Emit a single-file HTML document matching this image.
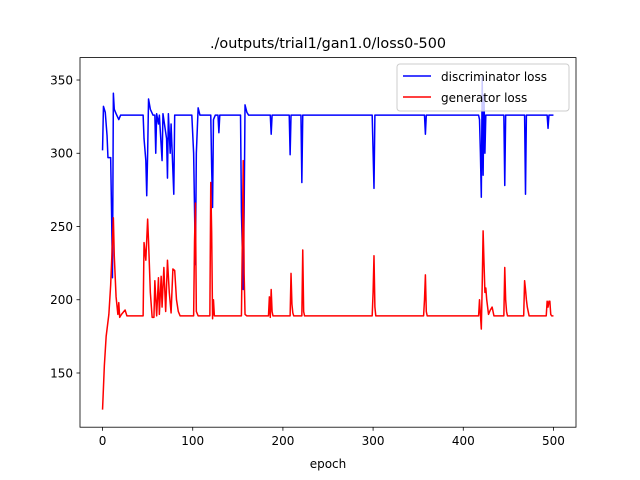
<!DOCTYPE html>
<html><head><meta charset="utf-8"><style>
body{margin:0;background:#fff;}
svg{display:block;font-family:"DejaVu Sans","Liberation Sans",sans-serif;}
</style></head><body>
<svg id="chart" width="640" height="480" xmlns="http://www.w3.org/2000/svg">
<rect width="640" height="480" fill="#fff"/>
<text x="328" y="48" text-anchor="middle" font-size="14.4">./outputs/trial1/gan1.0/loss0-500</text>
<g id="plot"></g>
<rect x="80" y="57.6" width="496" height="369.6" fill="none" stroke="#000" stroke-width="0.8"/>
<g id="xt"></g>
<g id="yt"></g>
<text x="328" y="468" text-anchor="middle" font-size="12">epoch</text>
<g>
<rect x="397" y="64" width="172" height="47" rx="3" fill="#fff" fill-opacity="0.8" stroke="#ccc" stroke-width="1"/>
<g>
<line x1="403" y1="76" x2="431" y2="76" stroke="#0000ff" stroke-width="1.5"/>
<text x="441" y="81" font-size="12">discriminator loss</text></g>
<g>
<line x1="403" y1="97" x2="431" y2="97" stroke="#ff0000" stroke-width="1.5"/>
<text x="441" y="102" font-size="12">generator loss</text></g>
</g>
</svg>
<script>
const xTicks=[0,100,200,300,400,500];
const yTicks=[150,200,250,300,350];
const dEpochs=[0,1,3,5,6,9,10,11,12,13,15,18,20,45,46,48,49,50,51,53,56,58,59,60,62,63,66,67,71,72,73,75,76,79,80,99,101,103,104,106,108,120,121,122,123,125,128,129,130,153,154,156,157,158,160,162,186,187,188,207,208,209,220,221,222,299,301,302,357,358,359,417,418,419,420,421,422,423,424,425,445,446,447,468,469,470,493,494,495,500];
const dValues=[302,332,328,312,297,297,260,215,341,330,327,323,326,326,310,295,271,300,337,330,326,326,300,327,320,326,295,327,310,283,327,300,320,272,326,326,300,224,300,331,326,326,290,263,323,326,326,314,326,326,260,207,260,333,328,326,326,313,326,326,299,326,326,280,326,326,276,326,326,313,326,326,323,300,270,352,285,340,300,326,326,278,326,326,272,326,326,317,326,326];
const gEpochs=[0,2,4,7,9,11,12,13,15,17,18,19,21,25,27,
45,46,48,50,51,53,55,57,58,60,62,63,65,66,68,70,72,74,76,78,80,82,84,86,
101,102,103,104,106,
119,120,121,122,123,124,
154,155,156,157,158,160,
184,185,186,187,188,189,
208,209,210,211,212,
221,222,223,224,
299,300,301,302,303,
356,357,358,359,360,
417,418,419,420,421,422,423,424,425,426,427,428,430,432,434,
445,446,447,448,449,
467,468,469,470,471,473,
492,493,494,495,496,497,498,500];
const gValues=[125,155,175,190,210,240,256,230,202,190,198,188,190,193,189,
189,239,227,255,240,205,188,188,213,189,215,190,216,195,222,192,227,205,191,221,220,200,192,189,
189,240,266,192,189,
189,280,246,187,200,189,
189,240,295,218,190,189,
189,202,188,207,192,189,
189,218,197,191,189,
189,234,192,189,
189,205,230,195,189,
189,200,217,192,189,
189,200,190,180,210,247,225,205,208,200,195,190,193,195,189,
189,222,200,192,189,
189,213,207,200,195,189,
189,199,195,199,199,190,189,189];
const X=v=>80+(v+25)*496/550;
const Y=v=>427.2-(v-113)*369.6/(365.3-113);
const NS="http://www.w3.org/2000/svg";
function mk(t,a,p){const e=document.createElementNS(NS,t);for(const k in a)e.setAttribute(k,a[k]);p.appendChild(e);return e;}
const xt=document.getElementById('xt'),yt=document.getElementById('yt'),plot=document.getElementById('plot');
xTicks.forEach(v=>{const g=mk('g',{},xt);


mk('line',{x1:X(v),x2:X(v),y1:427.2,y2:430.7,stroke:'#000','stroke-width':0.8},g);
const t=mk('text',{x:X(v),y:445,'text-anchor':'middle','font-size':12},g);t.textContent=v;});
yTicks.forEach(v=>{const g=mk('g',{},yt);


mk('line',{x1:76.5,x2:80,y1:Y(v),y2:Y(v),stroke:'#000','stroke-width':0.8},g);
const t=mk('text',{x:73,y:Y(v)+4.3,'text-anchor':'end','font-size':12},g);t.textContent=v;});
function line(ex,vs,c,n){const m=Math.min(ex.length,vs.length);const p=mk('polyline',{points:ex.slice(0,m).map((e,i)=>X(e)+','+Y(vs[i])).join(' '),fill:'none',stroke:c,'stroke-width':1.5,'stroke-linejoin':'round'},plot);

}
line(dEpochs,dValues,'#0000ff','discriminator-loss-line');
line(gEpochs,gValues,'#ff0000','generator-loss-line');
</script>
</body></html>
